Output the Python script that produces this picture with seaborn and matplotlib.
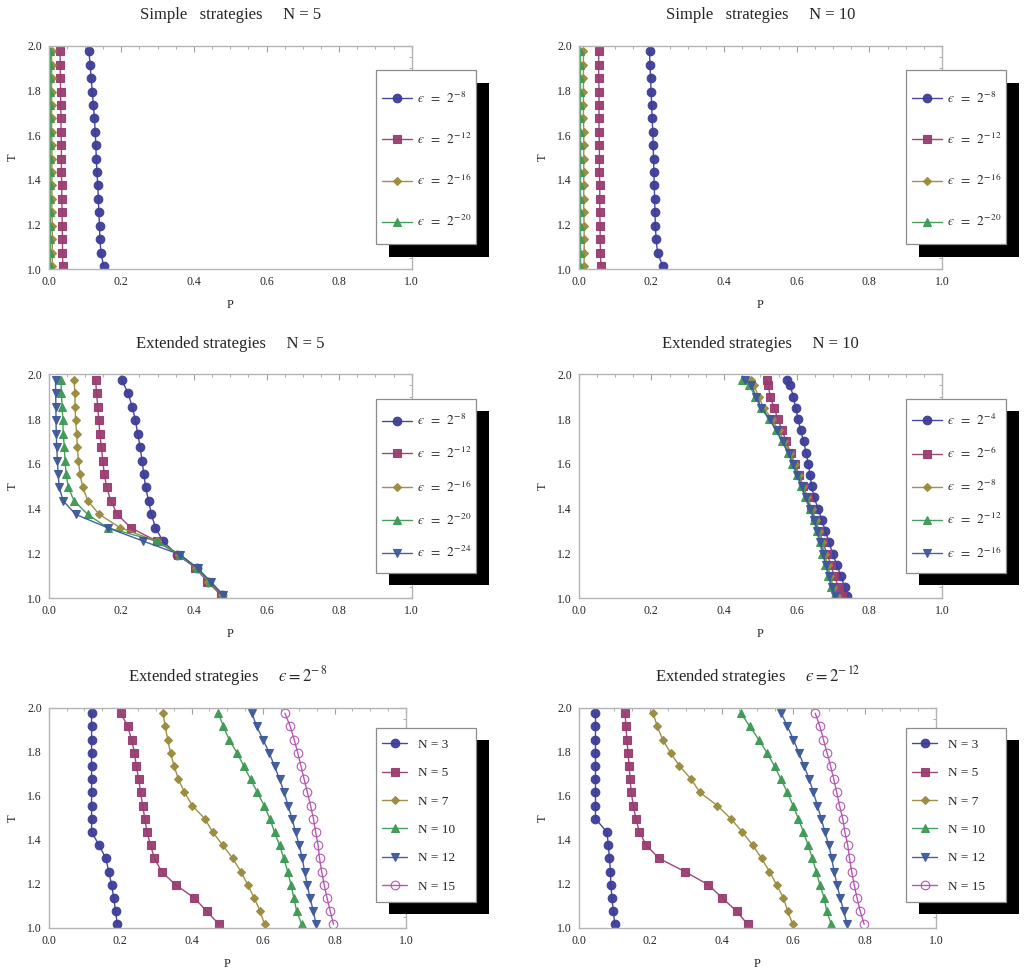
import matplotlib
matplotlib.use("Agg")
import matplotlib.pyplot as plt
from matplotlib.patches import Rectangle
from matplotlib.ticker import MultipleLocator, FormatStrFormatter
import seaborn as sns

sns.set_style("white")
plt.rcParams['font.family'] = ['Liberation Serif', 'DejaVu Serif']
plt.rcParams['mathtext.fontset'] = 'stix'

# T values, listed from the top of each plot downwards
T17 = [1.975, 1.915, 1.855, 1.795, 1.735, 1.675, 1.615, 1.555, 1.495,
       1.435, 1.375, 1.315, 1.255, 1.195, 1.135, 1.075, 1.015]
T21 = [1.975, 1.95, 1.90, 1.85, 1.80, 1.75, 1.70, 1.65, 1.60, 1.55, 1.50,
       1.45, 1.40, 1.35, 1.30, 1.25, 1.20, 1.15, 1.10, 1.05, 1.01]

# Simple strategies, N = 5
simple5_e8 = [0.111, 0.114, 0.117, 0.120, 0.123, 0.126, 0.128, 0.130, 0.131,
              0.133, 0.135, 0.137, 0.138, 0.140, 0.141, 0.144, 0.151]
simple5_e12 = [0.031, 0.032, 0.032, 0.033, 0.033, 0.034, 0.034, 0.035, 0.035,
               0.035, 0.036, 0.036, 0.037, 0.037, 0.038, 0.038, 0.039]
simple5_e16 = [0.008, 0.008, 0.008, 0.008, 0.008, 0.008, 0.008, 0.009, 0.009,
               0.009, 0.009, 0.009, 0.009, 0.010, 0.010, 0.010, 0.010]
simple5_e20 = [0.003, 0.003, 0.003, 0.003, 0.003, 0.003, 0.003, 0.003, 0.003,
               0.003, 0.003, 0.003, 0.003, 0.003, 0.003, 0.003, 0.003]

# Simple strategies, N = 10
simple10_e8 = [0.195, 0.196, 0.198, 0.199, 0.201, 0.202, 0.204, 0.205, 0.206,
               0.207, 0.208, 0.209, 0.210, 0.211, 0.213, 0.217, 0.231]
simple10_e12 = [0.055, 0.055, 0.055, 0.056, 0.056, 0.056, 0.056, 0.057, 0.057,
                0.057, 0.058, 0.058, 0.058, 0.059, 0.059, 0.060, 0.061]
simple10_e16 = [0.013, 0.013, 0.013, 0.013, 0.013, 0.013, 0.014, 0.014, 0.014,
                0.014, 0.014, 0.014, 0.014, 0.015, 0.015, 0.015, 0.015]
simple10_e20 = [0.004, 0.004, 0.004, 0.004, 0.004, 0.004, 0.004, 0.004, 0.004,
                0.004, 0.004, 0.004, 0.004, 0.004, 0.004, 0.004, 0.004]

# Extended strategies, N = 5
ext5_e8 = [0.201, 0.219, 0.230, 0.239, 0.245, 0.252, 0.257, 0.262, 0.267,
           0.275, 0.283, 0.294, 0.315, 0.353, 0.408, 0.440, 0.477]
ext5_e12 = [0.129, 0.132, 0.135, 0.138, 0.141, 0.145, 0.149, 0.153, 0.160,
            0.171, 0.189, 0.226, 0.298, 0.357, 0.404, 0.437, 0.474]
ext5_e16 = [0.070, 0.072, 0.073, 0.074, 0.077, 0.079, 0.082, 0.086, 0.094,
            0.108, 0.139, 0.197, 0.298, 0.359, 0.406, 0.440, 0.478]
ext5_e20 = [0.034, 0.035, 0.037, 0.039, 0.040, 0.043, 0.045, 0.048, 0.054,
            0.070, 0.107, 0.162, 0.298, 0.362, 0.408, 0.444, 0.479]
ext5_e24 = [0.019, 0.019, 0.020, 0.020, 0.021, 0.022, 0.024, 0.026, 0.029,
            0.040, 0.074, 0.162, 0.261, 0.362, 0.410, 0.446, 0.481]

# Extended strategies, N = 10 (finer T grid)
ext10_e4 = [0.574, 0.582, 0.591, 0.597, 0.604, 0.611, 0.619, 0.626, 0.632, 0.637, 0.641,
            0.648, 0.659, 0.669, 0.679, 0.689, 0.699, 0.710, 0.722, 0.732, 0.738]
ext10_e6 = [0.517, 0.522, 0.527, 0.538, 0.548, 0.560, 0.571, 0.583, 0.595, 0.607, 0.618,
            0.630, 0.640, 0.651, 0.662, 0.672, 0.683, 0.694, 0.703, 0.716, 0.726]
ext10_e8 = [0.473, 0.483, 0.495, 0.510, 0.531, 0.550, 0.566, 0.582, 0.594, 0.606, 0.618,
            0.629, 0.642, 0.652, 0.661, 0.669, 0.677, 0.685, 0.693, 0.701, 0.710]
ext10_e12 = [0.450, 0.470, 0.486, 0.501, 0.524, 0.543, 0.559, 0.576, 0.588, 0.600, 0.612,
             0.623, 0.636, 0.647, 0.655, 0.663, 0.671, 0.679, 0.687, 0.695, 0.704]
ext10_e16 = [0.459, 0.475, 0.489, 0.503, 0.526, 0.545, 0.561, 0.578, 0.590, 0.602, 0.614,
             0.625, 0.638, 0.649, 0.657, 0.665, 0.673, 0.681, 0.689, 0.697, 0.706]

# Extended strategies, eps = 2^-8
e8_N3 = [0.120, 0.120, 0.120, 0.120, 0.120, 0.120, 0.120, 0.120, 0.120,
         0.120, 0.141, 0.160, 0.168, 0.176, 0.182, 0.187, 0.192]
e8_N5 = [0.202, 0.221, 0.232, 0.240, 0.245, 0.252, 0.257, 0.263, 0.269,
         0.275, 0.285, 0.296, 0.316, 0.355, 0.408, 0.442, 0.477]
e8_N7 = [0.320, 0.326, 0.333, 0.341, 0.351, 0.363, 0.380, 0.402, 0.437,
         0.459, 0.487, 0.515, 0.538, 0.557, 0.575, 0.592, 0.604]
e8_N10 = [0.475, 0.489, 0.505, 0.527, 0.546, 0.565, 0.584, 0.603, 0.619,
          0.632, 0.646, 0.658, 0.669, 0.678, 0.686, 0.694, 0.708]
e8_N12 = [0.569, 0.582, 0.600, 0.617, 0.632, 0.646, 0.659, 0.670, 0.681,
          0.691, 0.701, 0.710, 0.716, 0.724, 0.731, 0.741, 0.748]
e8_N15 = [0.661, 0.676, 0.687, 0.697, 0.706, 0.715, 0.724, 0.733, 0.741,
          0.747, 0.754, 0.758, 0.764, 0.771, 0.779, 0.788, 0.797]

# Extended strategies, eps = 2^-12
e12_N3 = [0.047, 0.047, 0.047, 0.047, 0.047, 0.047, 0.047, 0.047, 0.047,
          0.079, 0.083, 0.086, 0.089, 0.090, 0.093, 0.097, 0.101]
e12_N5 = [0.130, 0.132, 0.135, 0.138, 0.141, 0.144, 0.147, 0.153, 0.160,
          0.170, 0.189, 0.225, 0.297, 0.363, 0.402, 0.442, 0.473]
e12_N7 = [0.208, 0.220, 0.235, 0.257, 0.282, 0.315, 0.339, 0.388, 0.426,
          0.458, 0.487, 0.512, 0.534, 0.554, 0.573, 0.585, 0.599]
e12_N10 = [0.454, 0.479, 0.504, 0.527, 0.548, 0.566, 0.584, 0.600, 0.615,
           0.629, 0.642, 0.654, 0.665, 0.675, 0.687, 0.694, 0.707]
e12_N12 = [0.567, 0.584, 0.601, 0.616, 0.631, 0.645, 0.657, 0.668, 0.679,
           0.689, 0.700, 0.708, 0.715, 0.723, 0.732, 0.742, 0.751]
e12_N15 = [0.662, 0.675, 0.685, 0.695, 0.705, 0.714, 0.722, 0.730, 0.739,
           0.745, 0.753, 0.758, 0.764, 0.771, 0.779, 0.788, 0.799]

eps_labels_simple = ["8", "12", "16", "20"]
eps_labels_ext5 = ["8", "12", "16", "20", "24"]
eps_labels_ext10 = ["4", "6", "8", "12", "16"]
n_labels = ["3", "5", "7", "10", "12", "15"]

# Mathematica-like default styles
styles = [
    dict(color="#3d3d99", marker="o", markersize=6.2),
    dict(color="#993d71", marker="s", markersize=5.2),
    dict(color="#998b3d", marker="D", markersize=4.2),
    dict(color="#3d9954", marker="^", markersize=5.5),
    dict(color="#3d5999", marker="v", markersize=5.5),
    dict(color="#b050b0", marker="o", markersize=6.2, mfc="none"),
]

W, H = 1024, 971
fig = plt.figure(figsize=(W / 100, H / 100), dpi=100)

LEG_FS = 9.5


def make_axes(left, right, top, bottom):
    return fig.add_axes([left / W, 1 - bottom / H, (right - left) / W, (bottom - top) / H])


def eps_label(e):
    return "$\u03f5\\;\\;=\\;\\;2^{-\\,%s}$" % e


def draw_panel(ax, T, series, labels, title, box, spacing, hlen, tpad, shift):
    for vals, lab, st in zip(series, labels, styles):
        mfc = st.get("mfc", st["color"])
        sns.lineplot(x=vals, y=T, orient="y", estimator=None, errorbar=None,
                     color=st["color"], marker=st["marker"], markersize=st["markersize"],
                     markerfacecolor=mfc, markeredgecolor=st["color"],
                     markeredgewidth=0.8, linewidth=1.0, alpha=0.95,
                     label=lab, ax=ax)
    ax.set_xlim(0, 1)
    ax.set_ylim(1, 2)
    ax.xaxis.set_major_locator(MultipleLocator(0.2))
    ax.xaxis.set_minor_locator(MultipleLocator(0.05))
    ax.yaxis.set_major_locator(MultipleLocator(0.2))
    ax.yaxis.set_minor_locator(MultipleLocator(0.05))
    ax.xaxis.set_major_formatter(FormatStrFormatter("%.1f"))
    ax.yaxis.set_major_formatter(FormatStrFormatter("%.1f"))
    ax.tick_params(which="both", direction="in", top=True, right=True,
                   color="#a0a0a0", labelsize=8.5, pad=5)
    ax.tick_params(which="major", length=4, width=0.8)
    ax.tick_params(which="minor", length=2.2, width=0.6)
    for sp in ax.spines.values():
        sp.set_color("#b4b4b4")
        sp.set_linewidth(1.0)
    ax.set_xlabel("P", fontsize=9, labelpad=8)
    ax.set_ylabel("T", fontsize=9, labelpad=6)
    ax.set_title(title, fontsize=12, pad=19)

    # legend entries, centred in the box given in pixels (left, top, right, bottom)
    left, top, right, bottom = box
    cy = (top + bottom) / 2 + shift
    leg = ax.legend(loc="center left", bbox_to_anchor=((left + 6) / W, 1 - cy / H),
                    bbox_transform=fig.transFigure, borderaxespad=0, borderpad=0,
                    fontsize=LEG_FS, frameon=False, labelspacing=spacing,
                    handlelength=hlen, handletextpad=tpad, numpoints=1)
    leg.set_zorder(6)

    # white box with grey edge and a black drop shadow
    x0, y0 = left / W, 1 - bottom / H
    bw, bh = (right - left) / W, (bottom - top) / H
    ax.add_patch(Rectangle((x0 + 12.5 / W, y0 - 12.5 / H), bw, bh, transform=fig.transFigure,
                           facecolor="black", edgecolor="none", clip_on=False, zorder=5))
    ax.add_patch(Rectangle((x0, y0), bw, bh, transform=fig.transFigure,
                           facecolor="white", edgecolor="#8c8c8c", linewidth=0.9,
                           clip_on=False, zorder=5.5))
    return leg


ax = make_axes(48.7, 411.7, 45.7, 269.3)
draw_panel(ax, T17, [simple5_e8, simple5_e12, simple5_e16, simple5_e20],
           [eps_label(e) for e in eps_labels_simple],
           "Simple   strategies     N = 5", (376, 70, 476, 244), 1.95, 2.27, 0.4, 3)

ax = make_axes(578.7, 942, 45.7, 269.3)
draw_panel(ax, T17, [simple10_e8, simple10_e12, simple10_e16, simple10_e20],
           [eps_label(e) for e in eps_labels_simple],
           "Simple   strategies     N = 10", (906, 70, 1006, 244), 1.95, 2.27, 0.4, 3)

ax = make_axes(48.7, 411.7, 374.3, 598.3)
draw_panel(ax, T17, [ext5_e8, ext5_e12, ext5_e16, ext5_e20, ext5_e24],
           [eps_label(e) for e in eps_labels_ext5],
           "Extended strategies     N = 5", (376, 399, 476, 572.5), 1.35, 2.27, 0.4, 1)

ax = make_axes(578.7, 942, 374.3, 598.3)
draw_panel(ax, T21, [ext10_e4, ext10_e6, ext10_e8, ext10_e12, ext10_e16],
           [eps_label(e) for e in eps_labels_ext10],
           "Extended strategies     N = 10", (906, 399, 1006, 572.5), 1.35, 2.27, 0.4, 1)

ax = make_axes(48.7, 406, 707.7, 927.7)
draw_panel(ax, T17, [e8_N3, e8_N5, e8_N7, e8_N10, e8_N12, e8_N15],
           ["N = " + n for n in n_labels],
           "Extended strategies     $\u03f5 = 2^{-\\,8}$", (376, 727.7, 476, 901.5), 1.22, 1.9, 0.8, 1)

ax = make_axes(578.7, 936, 707.7, 927.7)
draw_panel(ax, T17, [e12_N3, e12_N5, e12_N7, e12_N10, e12_N12, e12_N15],
           ["N = " + n for n in n_labels],
           "Extended strategies     $\u03f5 = 2^{-\\,12}$", (906, 727.7, 1006, 901.5), 1.22, 1.9, 0.8, 1)

fig.savefig("out.png", dpi=100, facecolor="white")
